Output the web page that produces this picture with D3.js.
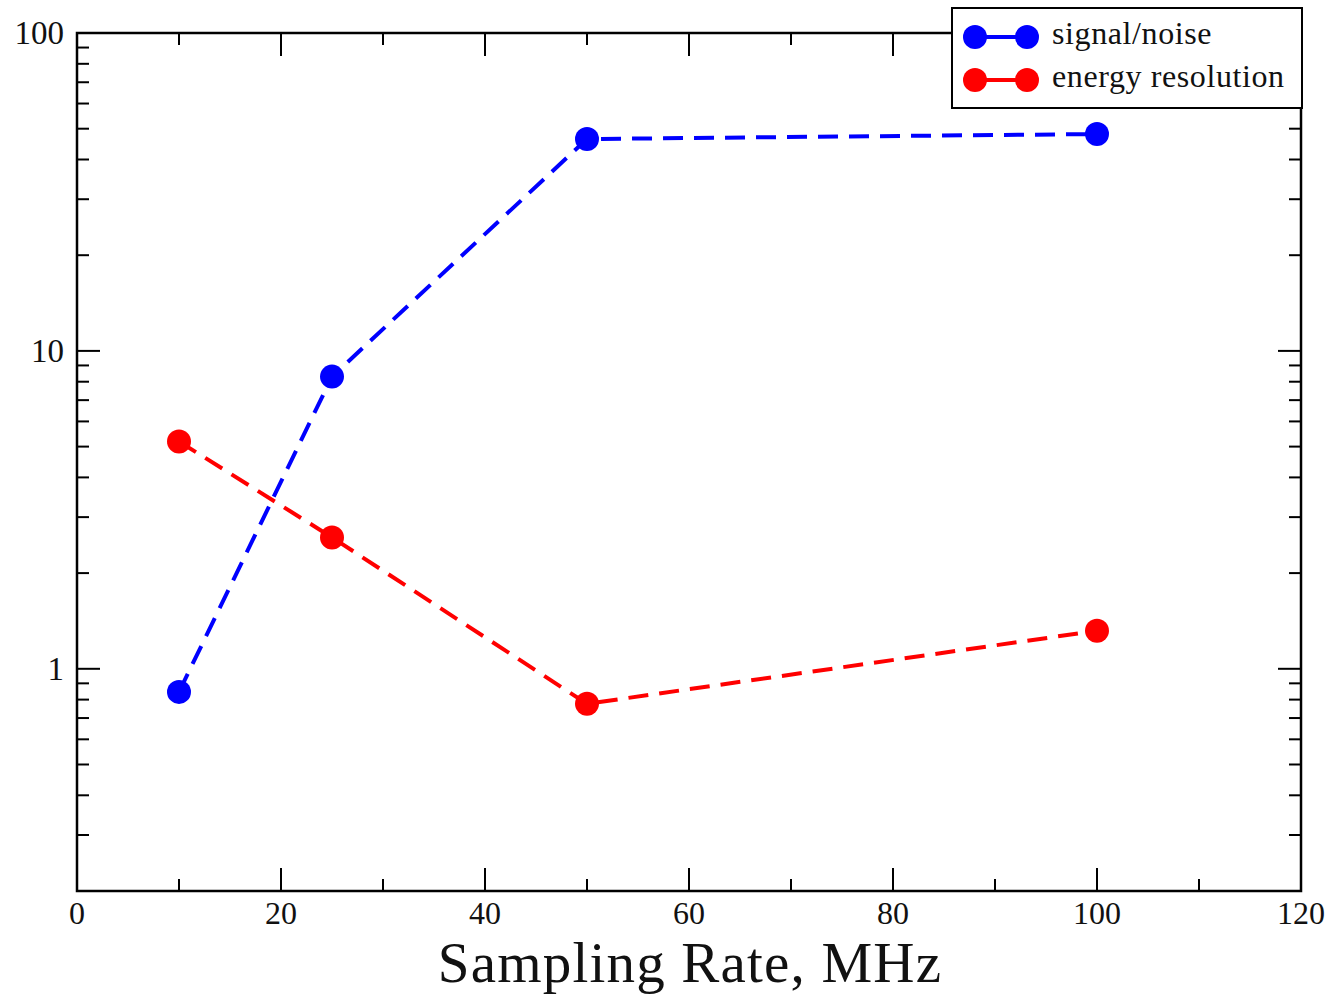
<!DOCTYPE html>
<html><head><meta charset="utf-8">
<script src="https://cdn.jsdelivr.net/npm/d3@7"></script>
<style>body{margin:0;background:#fff}svg{display:block}</style>
</head><body>
<svg id="c" width="1332" height="996"></svg>
<script>
const rates = [10, 25, 50, 100];
const signalNoise = [0.846, 8.3, 46.4, 48.1];
const energyRes = [5.19, 2.59, 0.776, 1.317];
const seriesNames = ["signal/noise", "energy resolution"];
const seriesColors = ["#0000ff", "#ff0000"];
const xTicks = [0, 20, 40, 60, 80, 100, 120];
const yTicks = [1, 10, 100];
const xTitle = "Sampling Rate, MHz";

const svg = d3.select("#c");
const L = 77, R = 1301, T = 33, B = 891;
const x = d3.scaleLinear().domain([0, 120]).range([L, R]);
const y = d3.scaleLog().domain([0.2, 100]).range([B, T]);
const font = "'Liberation Serif','Times New Roman',serif";

const yMinor = [];
[0.1, 1, 10].forEach(d => { for (let k = 2; k <= 9; k++) { const v = d * k; if (v >= 0.2 && v < 100) yMinor.push(v); } });
const xMinor = [10, 30, 50, 70, 90, 110];

const g = svg.append("g");
const tk = g.append("g").attr("stroke", "#000").attr("stroke-width", 2);
yTicks.forEach(v => {
  tk.append("line").attr("x1", L).attr("x2", L + 23).attr("y1", y(v)).attr("y2", y(v));
  tk.append("line").attr("x1", R).attr("x2", R - 23).attr("y1", y(v)).attr("y2", y(v));
});
yMinor.forEach(v => {
  tk.append("line").attr("x1", L).attr("x2", L + 12).attr("y1", y(v)).attr("y2", y(v));
  tk.append("line").attr("x1", R).attr("x2", R - 12).attr("y1", y(v)).attr("y2", y(v));
});
xTicks.forEach(v => {
  tk.append("line").attr("x1", x(v)).attr("x2", x(v)).attr("y1", B).attr("y2", B - 23);
  tk.append("line").attr("x1", x(v)).attr("x2", x(v)).attr("y1", T).attr("y2", T + 23);
});
xMinor.forEach(v => {
  tk.append("line").attr("x1", x(v)).attr("x2", x(v)).attr("y1", B).attr("y2", B - 12);
  tk.append("line").attr("x1", x(v)).attr("x2", x(v)).attr("y1", T).attr("y2", T + 12);
});
g.append("rect").attr("x", L).attr("y", T).attr("width", R - L).attr("height", B - T)
  .attr("fill", "none").attr("stroke", "#000").attr("stroke-width", 2.5);

g.selectAll(".xl").data(xTicks).enter().append("text")
  .attr("x", d => x(d)).attr("y", B + 33).attr("text-anchor", "middle")
  .attr("font-family", font).attr("font-size", 32).attr("fill", "#111").text(d => d);
g.selectAll(".yl").data(yTicks).enter().append("text")
  .attr("x", L - 13).attr("y", d => y(d) + 11).attr("text-anchor", "end")
  .attr("font-family", font).attr("font-size", 33).attr("fill", "#111").text(d => d);

g.append("text").attr("x", 690).attr("y", 982).attr("text-anchor", "middle")
  .attr("font-family", font).attr("font-size", 57).attr("letter-spacing", 1.2)
  .attr("fill", "#111").text(xTitle);

const series = [signalNoise, energyRes];
const line = d3.line().x(d => x(d[0])).y(d => y(d[1]));
series.forEach((vals, i) => {
  const pts = rates.map((r, j) => [r, vals[j]]);
  g.append("path").datum(pts).attr("d", line).attr("fill", "none")
    .attr("stroke", seriesColors[i]).attr("stroke-width", 4).attr("stroke-dasharray", "20,11");
  g.selectAll(".m" + i).data(pts).enter().append("circle")
    .attr("cx", d => x(d[0])).attr("cy", d => y(d[1])).attr("r", 12)
    .attr("fill", seriesColors[i]);
});

const lg = g.append("g");
lg.append("rect").attr("x", 952).attr("y", 8).attr("width", 350).attr("height", 100)
  .attr("fill", "#fff").attr("stroke", "#000").attr("stroke-width", 2);
seriesNames.forEach((n, i) => {
  const cy = 37 + i * 43;
  lg.append("line").attr("x1", 975).attr("x2", 1027).attr("y1", cy).attr("y2", cy)
    .attr("stroke", seriesColors[i]).attr("stroke-width", 4);
  lg.append("circle").attr("cx", 975).attr("cy", cy).attr("r", 12).attr("fill", seriesColors[i]);
  lg.append("circle").attr("cx", 1027).attr("cy", cy).attr("r", 12).attr("fill", seriesColors[i]);
  lg.append("text").attr("x", 1052).attr("y", cy + 7).attr("font-family", font)
    .attr("font-size", 32).attr("fill", "#111").attr("letter-spacing", 0.6).text(n);
});
</script>
</body></html>
